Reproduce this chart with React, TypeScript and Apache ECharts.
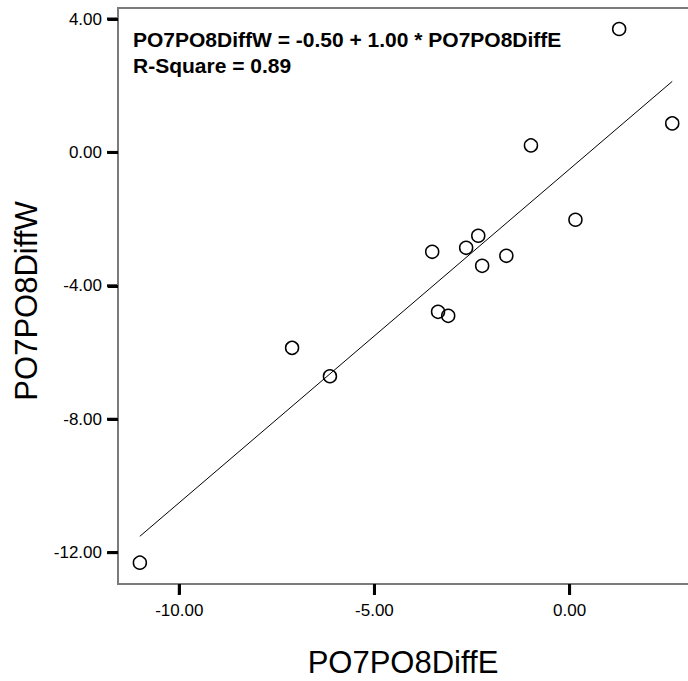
import React, { useEffect, useRef } from "react";
import * as echarts from "echarts";

const diffE = [1.27, 2.63, -0.99, 0.15, -3.52, -2.65, -2.34, -2.24, -1.62, -3.37, -3.11, -7.11, -6.14, -11.01];
const diffW = [3.70, 0.87, 0.21, -2.02, -2.98, -2.86, -2.50, -3.40, -3.10, -4.78, -4.90, -5.86, -6.71, -12.30];
const fitIntercept = -0.5;
const fitSlope = 1.0;
const rSquare = 0.89;
const xTicks = [-10, -5, 0];
const yTicks = [-12, -8, -4, 0, 4];
const xName = "PO7PO8DiffE";
const yName = "PO7PO8DiffW";

const X_MIN = -11.57;
const X_MAX = 3.29;
const Y_MIN = -12.94;
const Y_MAX = 4.33;

export default function App() {
  const ref = useRef<HTMLDivElement>(null);
  useEffect(() => {
    if (!ref.current) return;
    const chart = echarts.init(ref.current, null, { renderer: "svg" });
    const pts = diffE.map((x, i) => [x, diffW[i]]);
    const xMin = Math.min(...diffE);
    const xMax = Math.max(...diffE);
    const fitLine = [
      [xMin, fitIntercept + fitSlope * xMin],
      [xMax, fitIntercept + fitSlope * xMax],
    ];
    const labelFont = { fontFamily: "Liberation Sans, Arial, sans-serif", fontSize: 17, color: "#000" };
    const texts: any[] = [
      {
        type: "text",
        left: 133,
        top: 29,
        style: {
          text: `${yName} = ${fitIntercept.toFixed(2)} + ${fitSlope.toFixed(2)} * ${xName}`,
          font: "bold 21px Liberation Sans, Arial, sans-serif",
          fill: "#000",
        },
      },
      {
        type: "text",
        left: 133,
        top: 55,
        style: {
          text: `R-Square = ${rSquare.toFixed(2)}`,
          font: "bold 21px Liberation Sans, Arial, sans-serif",
          fill: "#000",
        },
      },
      {
        type: "text",
        x: 403,
        y: 662,
        style: {
          text: xName,
          font: "31px Liberation Sans, Arial, sans-serif",
          fill: "#000",
          textAlign: "center",
          textVerticalAlign: "middle",
        },
      },
      {
        type: "text",
        x: 26,
        y: 301,
        rotation: Math.PI / 2,
        style: {
          text: yName,
          font: "31px Liberation Sans, Arial, sans-serif",
          fill: "#000",
          textAlign: "center",
          textVerticalAlign: "middle",
        },
      },
    ];
    chart.setOption({
      animation: false,
      grid: {
        left: 118,
        top: 8,
        width: 580,
        height: 576,
        show: true,
        borderColor: "#7a7a7a",
        borderWidth: 2,
        outerBoundsMode: "none",
      },
      xAxis: {
        type: "value",
        position: "bottom",
        min: X_MIN,
        max: X_MAX,
        axisLine: { show: true, onZero: false, lineStyle: { color: "#7a7a7a", width: 2 } },
        splitLine: { show: false },
        axisTick: { show: true, length: 10, lineStyle: { color: "#000", width: 3 }, customValues: xTicks },
        axisLabel: { ...labelFont, margin: 18, customValues: xTicks, formatter: (v: number) => v.toFixed(2) },
      },
      yAxis: {
        type: "value",
        position: "left",
        min: Y_MIN,
        max: Y_MAX,
        axisLine: { show: true, onZero: false, lineStyle: { color: "#7a7a7a", width: 2 } },
        splitLine: { show: false },
        axisTick: { show: true, length: 10, lineStyle: { color: "#000", width: 3 }, customValues: yTicks },
        axisLabel: { ...labelFont, margin: 16, customValues: yTicks, formatter: (v: number) => v.toFixed(2) },
      },
      series: [
        {
          type: "line",
          data: fitLine,
          symbol: "none",
          lineStyle: { color: "#000", width: 1 },
        },
        {
          type: "scatter",
          data: pts,
          symbol: "circle",
          symbolSize: 13,
          itemStyle: { color: "rgba(0,0,0,0)", borderColor: "#000", borderWidth: 1.5, opacity: 1 },
        },
      ],
      graphic: texts,
    });
    const tickMarks: any[] = [];
    xTicks.forEach((v) => {
      const p = chart.convertToPixel({ gridIndex: 0 }, [v, Y_MIN]) as number[];
      if (p && isFinite(p[0]) && isFinite(p[1])) {
        tickMarks.push({
          type: "line",
          z: 100,
          shape: { x1: p[0], y1: p[1] + 1, x2: p[0], y2: p[1] + 11 },
          style: { stroke: "#000", lineWidth: 3 },
        });
      }
    });
    yTicks.forEach((v) => {
      const p = chart.convertToPixel({ gridIndex: 0 }, [X_MIN, v]) as number[];
      if (p && isFinite(p[0]) && isFinite(p[1])) {
        tickMarks.push({
          type: "line",
          z: 100,
          shape: { x1: p[0] - 1, y1: p[1], x2: p[0] - 11, y2: p[1] },
          style: { stroke: "#000", lineWidth: 3 },
        });
      }
    });
    chart.setOption({ graphic: [...texts, ...tickMarks] }, { replaceMerge: ["graphic"] });
    return () => chart.dispose();
  }, []);
  return <div ref={ref} style={{ position: "absolute", left: 0, top: 0, width: 688, height: 681, background: "#fff" }} />;
}
